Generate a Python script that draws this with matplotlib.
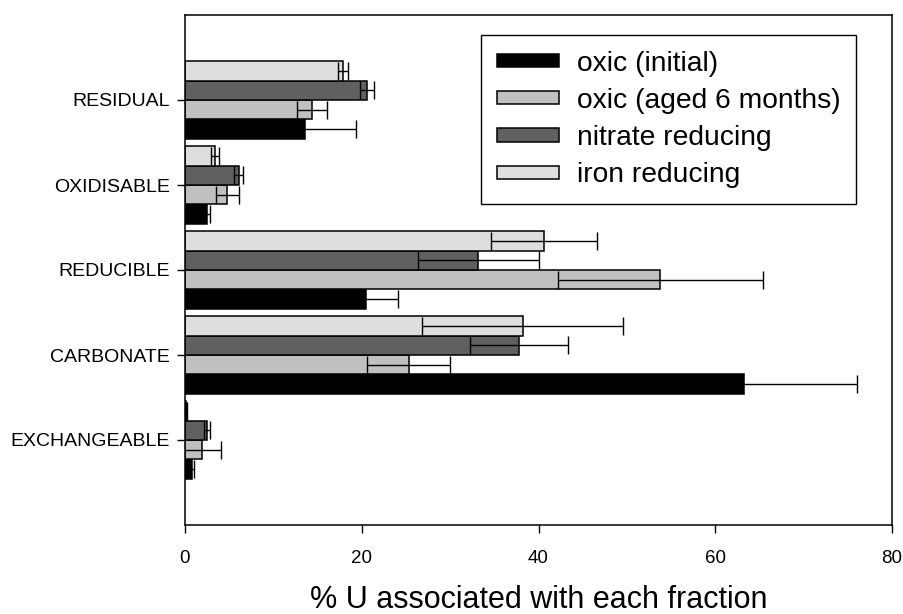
import matplotlib.pyplot as plt
import numpy as np

plt.rcParams['font.family'] = ['Liberation Sans', 'DejaVu Sans']

# --- data ---
fractions = ["EXCHANGEABLE", "CARBONATE", "REDUCIBLE", "OXIDISABLE", "RESIDUAL"]
series = ["oxic (initial)", "oxic (aged 6 months)", "nitrate reducing", "iron reducing"]
colors = ["#000000", "#c0c0c0", "#606060", "#dedede"]

oxic_initial = [0.8, 63.2, 20.5, 2.5, 13.6]
oxic_initial_err = [0.2, 12.8, 3.6, 0.3, 5.7]
oxic_aged = [1.9, 25.3, 53.8, 4.8, 14.4]
oxic_aged_err = [2.2, 4.7, 11.6, 1.3, 1.7]
nitrate = [2.5, 37.8, 33.2, 6.1, 20.6]
nitrate_err = [0.3, 5.5, 6.8, 0.5, 0.8]
iron = [0.15, 38.2, 40.6, 3.4, 17.9]
iron_err = [0.05, 11.4, 6.0, 0.5, 0.55]

values = [oxic_initial, oxic_aged, nitrate, iron]
errors = [oxic_initial_err, oxic_aged_err, nitrate_err, iron_err]

# --- plot ---
fig = plt.figure(figsize=(9.04, 6.14), dpi=100)
ax = fig.add_axes([185 / 904, 89 / 614, 707 / 904, 510 / 614])

y = np.arange(len(fractions))
h = 0.228
for i, (vals, errs) in enumerate(zip(values, errors)):
    pos = y + (i - 1.5) * h
    ax.barh(pos, vals, height=h, color=colors[i], edgecolor="black",
            linewidth=1.1, label=series[i], zorder=2)
    ax.errorbar(vals, pos, xerr=errs, fmt="none", ecolor="black",
                elinewidth=1.0, capsize=6.5, capthick=1.0, zorder=3)

ax.set_xlim(0, 80)
ax.set_ylim(-1, 5)
ax.set_xticks([0, 20, 40, 60, 80])
ax.set_yticks(y)
ax.set_yticklabels(fractions)
ax.tick_params(axis="both", direction="out", length=6, width=1, labelsize=13.5)
ax.tick_params(axis="y", labelsize=14, pad=5)
ax.tick_params(axis="x", pad=12)
for s in ax.spines.values():
    s.set_linewidth(1.1)

ax.set_xlabel("% U associated with each fraction", fontsize=22, labelpad=13)

leg = ax.legend(loc="upper left", bbox_to_anchor=(481 / 904, 1 - 35 / 614),
                bbox_transform=fig.transFigure, fontsize=20.3, frameon=True,
                fancybox=False, edgecolor="black", framealpha=1,
                handlelength=2.2, handleheight=0.35, handletextpad=0.64,
                labelspacing=0.4, borderpad=0.55, borderaxespad=0)
leg.get_frame().set_linewidth(1.0)

plt.savefig("out.png", dpi=100)
